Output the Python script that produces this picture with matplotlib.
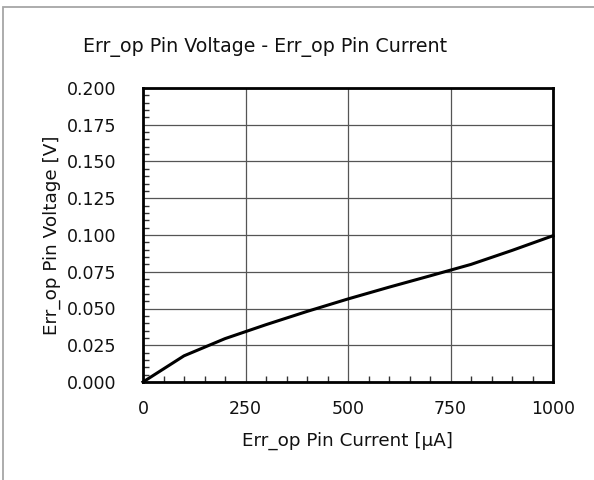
import matplotlib.pyplot as plt
import matplotlib.patches as patches
import numpy as np
from matplotlib.ticker import MultipleLocator, FormatStrFormatter

# Err_op pin current [uA] and voltage [V]
current = [0, 100, 200, 300, 400, 500, 600, 700, 800, 900, 1000]
voltage = [0.0, 0.0178, 0.0295, 0.0390, 0.0480, 0.0565, 0.0645, 0.0722, 0.0800, 0.0895, 0.0995]

x_ticks = [0, 250, 500, 750, 1000]

W, H = 594, 480
fig = plt.figure(figsize=(W / 100, H / 100), dpi=100)

# light frame, only top/left edges visible in the reference
fig.patches.append(patches.Rectangle((3 / W, -0.1), 1.2, 1 - 7 / H + 0.1,
                                     transform=fig.transFigure, fill=False,
                                     edgecolor='#a6a6a6', linewidth=1.3))

ax = fig.add_axes([143 / W, 1 - 382 / H, 410 / W, 294 / H])
ax.plot(current, voltage, color='black', linewidth=2.2, clip_on=False, zorder=3)

ax.set_xlim(0, 1000)
ax.set_ylim(0, 0.2)
ax.set_xticks(x_ticks)
ax.yaxis.set_major_locator(MultipleLocator(0.025))
ax.yaxis.set_major_formatter(FormatStrFormatter('%.3f'))
ax.xaxis.set_minor_locator(MultipleLocator(50))
ax.yaxis.set_minor_locator(MultipleLocator(0.005))

ax.grid(True, which='major', color='#555555', linewidth=0.9)
ax.tick_params(which='both', direction='in', color='#333333', labelsize=12.5, labelcolor='#111111')
ax.tick_params(axis='y', which='major', length=0, pad=19)
ax.tick_params(axis='x', which='major', length=0, pad=13)
ax.tick_params(which='minor', length=4, width=1)
for s in ax.spines.values():
    s.set_linewidth(2)

ax.set_xlabel('Err_op Pin Current [µA]', fontsize=13.2, color='#111111')
ax.set_ylabel('Err_op Pin Voltage [V]', fontsize=13.2, color='#111111')
ax.xaxis.set_label_coords(0.5, -0.17)
ax.yaxis.set_label_coords(-0.2, 0.5)

fig.text(265 / W, 1 - 52 / H, 'Err_op Pin Voltage - Err_op Pin Current',
         ha='center', va='baseline', fontsize=13.7, color='#111111')

fig.savefig('out.png', dpi=100)
